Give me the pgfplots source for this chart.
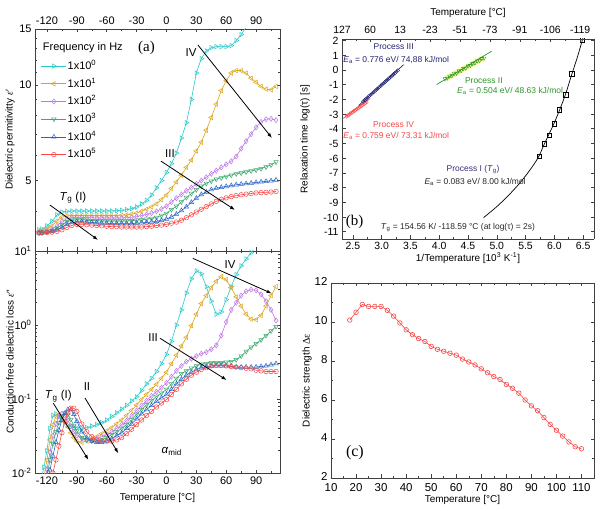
\documentclass[border=0pt]{standalone}
\usepackage{pgfplots}
\usepackage{pgfplotstable}
\pgfplotsset{compat=1.18}
\usepackage{fontspec}
\setmainfont{Liberation Sans}
\newfontfamily\seriffont{Liberation Serif}
\usetikzlibrary{arrows.meta}

\definecolor{cA}{RGB}{40,200,200}
\definecolor{cB}{RGB}{220,165,30}
\definecolor{cC}{RGB}{190,120,230}
\definecolor{cD}{RGB}{60,170,110}
\definecolor{cE}{RGB}{40,100,200}
\definecolor{cF}{RGB}{250,70,70}
\definecolor{navyIII}{RGB}{35,35,115}
\definecolor{greenII}{RGB}{40,150,40}
\definecolor{procI}{RGB}{55,45,115}

% dielectric permittivity eps'
\pgfplotstableread{
T c o v g b r
-128 3.50 3.46 3.43 3.42 3.42 3.42
-125 3.52 3.47 3.44 3.43 3.42 3.42
-120 3.60 3.52 3.47 3.45 3.44 3.43
-115 3.72 3.60 3.52 3.48 3.46 3.44
-110 3.90 3.73 3.60 3.54 3.50 3.46
-105 3.98 3.83 3.72 3.63 3.56 3.50
-100 4.00 3.87 3.79 3.71 3.64 3.56
-95 4.01 3.88 3.82 3.75 3.69 3.61
-90 4.01 3.88 3.83 3.76 3.71 3.64
-85 4.01 3.88 3.83 3.76 3.71 3.64
-80 4.01 3.88 3.82 3.75 3.70 3.63
-75 4.01 3.88 3.82 3.74 3.69 3.62
-70 4.01 3.88 3.81 3.74 3.68 3.61
-65 4.01 3.88 3.81 3.73 3.67 3.60
-60 4.01 3.88 3.81 3.73 3.67 3.59
-55 4.01 3.88 3.81 3.73 3.66 3.58
-50 4.02 3.88 3.81 3.73 3.66 3.58
-45 4.03 3.89 3.81 3.73 3.66 3.57
-40 4.05 3.90 3.82 3.73 3.66 3.57
-35 4.08 3.92 3.83 3.74 3.66 3.57
-30 4.13 3.95 3.85 3.75 3.67 3.57
-25 4.22 4.00 3.88 3.76 3.68 3.57
-20 4.33 4.06 3.91 3.78 3.69 3.58
-15 4.50 4.13 3.95 3.80 3.70 3.59
-10 4.74 4.22 4.00 3.83 3.72 3.61
-5 5.00 4.35 4.07 3.88 3.75 3.62
0 5.30 4.50 4.15 3.94 3.78 3.64
5 5.65 4.72 4.28 4.05 3.84 3.67
10 6.10 4.95 4.40 4.15 3.92 3.70
15 6.80 5.20 4.52 4.28 4.02 3.75
20 7.60 5.50 4.64 4.42 4.13 3.82
25 9.00 5.80 4.75 4.55 4.27 3.90
30 10.9 6.20 4.88 4.68 4.40 3.98
35 12.1 6.60 5.00 4.80 4.52 4.06
40 12.8 7.20 5.12 4.90 4.60 4.14
45 13.1 7.90 5.25 4.98 4.68 4.22
50 13.2 8.70 5.37 5.05 4.73 4.30
55 13.2 9.60 5.50 5.10 4.76 4.36
60 13.2 10.3 5.62 5.15 4.79 4.41
65 13.3 10.9 5.75 5.20 4.82 4.45
70 13.8 11.1 5.95 5.25 4.85 4.48
75 14.4 11.1 6.30 5.28 4.87 4.51
80 15.2 10.9 6.65 5.32 4.89 4.53
85 16.5 10.5 7.00 5.36 4.91 4.55
90 18.0 10.2 7.35 5.40 4.93 4.57
95 20.0 9.90 7.65 5.45 4.95 4.58
100 22.0 9.70 7.80 5.52 4.97 4.59
105 24.0 9.65 7.82 5.60 4.99 4.60
110 26.0 9.90 7.75 5.72 5.02 4.62
}\tabEpsP

% conduction-free dielectric loss eps''
\pgfplotstableread{
T c o v g b r
-126 0.008 0.006 0.005 0.005 0.004 0.004
-123 0.012 0.009 0.007 0.006 0.005 0.0045
-120 0.020 0.015 0.011 0.009 0.007 0.0055
-117 0.040 0.028 0.019 0.015 0.011 0.007
-114 0.060 0.045 0.032 0.025 0.017 0.010
-111 0.063 0.058 0.046 0.036 0.026 0.015
-108 0.058 0.062 0.058 0.048 0.038 0.023
-105 0.052 0.058 0.063 0.058 0.052 0.035
-102 0.047 0.050 0.060 0.065 0.064 0.050
-99 0.044 0.042 0.052 0.062 0.072 0.065
-96 0.042 0.035 0.043 0.053 0.072 0.075
-93 0.041 0.030 0.036 0.044 0.062 0.075
-90 0.041 0.027 0.032 0.037 0.050 0.068
-85 0.040 0.026 0.029 0.030 0.036 0.046
-80 0.041 0.027 0.028 0.028 0.030 0.036
-75 0.043 0.029 0.028 0.027 0.027 0.031
-70 0.045 0.031 0.029 0.027 0.026 0.028
-65 0.048 0.034 0.031 0.028 0.026 0.027
-60 0.052 0.037 0.033 0.030 0.027 0.027
-55 0.058 0.041 0.036 0.033 0.029 0.027
-50 0.065 0.046 0.040 0.036 0.032 0.028
-45 0.073 0.052 0.045 0.040 0.035 0.030
-40 0.082 0.060 0.051 0.045 0.040 0.034
-35 0.094 0.070 0.059 0.052 0.046 0.039
-30 0.107 0.083 0.070 0.062 0.054 0.045
-25 0.130 0.098 0.082 0.072 0.063 0.052
-20 0.160 0.115 0.095 0.083 0.072 0.060
-15 0.190 0.135 0.110 0.095 0.082 0.068
-10 0.235 0.158 0.125 0.108 0.093 0.078
-5 0.300 0.190 0.142 0.120 0.104 0.088
0 0.400 0.230 0.165 0.135 0.115 0.098
5 0.600 0.300 0.200 0.160 0.135 0.115
10 1.00 0.390 0.240 0.190 0.160 0.135
15 1.60 0.520 0.280 0.220 0.185 0.160
20 2.70 0.680 0.320 0.240 0.210 0.185
25 4.20 0.980 0.350 0.260 0.230 0.210
30 5.40 1.40 0.380 0.280 0.250 0.230
35 4.90 1.95 0.410 0.295 0.265 0.250
40 3.30 2.50 0.430 0.300 0.272 0.265
45 2.10 3.20 0.470 0.310 0.278 0.280
50 1.40 3.90 0.530 0.310 0.280 0.285
55 1.50 4.50 0.720 0.310 0.280 0.285
60 2.20 4.10 1.10 0.315 0.280 0.280
65 3.30 3.20 1.60 0.320 0.275 0.275
70 4.80 2.40 2.00 0.340 0.270 0.270
75 6.30 1.80 2.50 0.380 0.270 0.265
80 7.80 1.40 2.85 0.440 0.270 0.260
85 9.50 1.20 3.00 0.500 0.270 0.255
90 11.5 1.18 2.95 0.560 0.270 0.245
95 14.0 1.35 2.60 0.630 0.275 0.240
100 17.0 1.80 2.10 0.720 0.280 0.235
105 20.0 2.50 1.60 0.830 0.290 0.235
110 24.0 3.30 1.15 0.950 0.300 0.235
}\tabEpsPP

% dielectric strength
\pgfplotstableread{
T d
17.5 10.10
20 10.50
22.5 10.90
25 10.80
27.5 10.80
30 10.80
32.5 10.60
35 10.30
37.5 9.95
40 9.60
42.5 9.35
45 9.15
47.5 9.00
50 8.75
52.5 8.60
55 8.50
57.5 8.40
60 8.30
62.5 8.10
65 7.95
67.5 7.80
70 7.60
72.5 7.40
75 7.20
77.5 7.05
80 6.80
82.5 6.60
85 6.35
87.5 6.00
90 5.70
92.5 5.45
95 5.10
97.5 4.75
100 4.45
102.5 4.15
105 3.85
107.5 3.60
110 3.50
}\tabDeps

\pgfplotsset{
  base/.style={
    scale only axis, anchor=south west,
    axis line style={black!75, line width=0.6bp},
    tick style={black!75, line width=0.5bp},
    tick align=inside,
    major tick length=3.5bp, minor tick length=2bp,
    tick label style={font=\fontsize{11}{12}\selectfont},
    label style={font=\fontsize{12.5}{14}\selectfont},
    /pgf/number format/assume math mode=true,
    clip marker paths=true,
  },
  ser/.style={line width=0.6bp, mark size=2.6bp},
  sA/.style={ser, cA, mark=triangle, mark options={solid, rotate=-90, line width=0.5bp}},
  sB/.style={ser, cB, mark=triangle, mark options={solid, rotate=90, line width=0.5bp}},
  sC/.style={ser, cC, mark=diamond, mark options={solid, line width=0.5bp}},
  sD/.style={ser, cD, mark=triangle, mark options={solid, rotate=180, line width=0.5bp}},
  sE/.style={ser, cE, mark=triangle, mark options={solid, line width=0.5bp}},
  sF/.style={ser, cF, mark=o, mark size=2.3bp, mark options={solid, line width=0.5bp}},
}
\tikzset{
  arr/.style={-{Latex[length=5bp,width=3.6bp]}, line width=0.8bp, black},
  ann/.style={font=\fontsize{11.5}{12}\selectfont},
  bann/.style={font=\fontsize{8.5}{10}\selectfont},
}

\begin{document}
\begin{tikzpicture}
\useasboundingbox (0bp,0bp) rectangle (606bp,511bp);

% ---------------- (a) top: eps'
\begin{axis}[base,
  at={(35bp,260bp)}, width=245bp, height=222bp,
  xmin=-132, xmax=114, ymode=log, ymin=3, ymax=15,
  xtick={-120,-90,...,90}, minor xtick={-105,-75,...,105},
  xticklabel pos=upper,
  xticklabel style={yshift=1bp},
  ytick={5,10,15}, yticklabels={5,10,15},
  minor ytick={4,6,7,8,9,11,12,13,14},
  ylabel={Dielectric permitivitty {\seriffont\itshape ε}′},
  every axis y label/.style={at={(rel axis cs:0,0.5)}, xshift=-25bp, rotate=90, anchor=center},
  legend style={at={(0.024,0.862)}, anchor=north west, draw=none, fill=none, inner sep=0pt,
    row sep=5.2bp, font=\fontsize{11}{12}\selectfont,
    nodes={inner sep=1bp, text height=8.5bp, text depth=2bp}},
  legend cell align=left,
  legend image code/.code={\draw[mark repeat=2,mark phase=2] plot coordinates {(0bp,0bp) (12.5bp,0bp) (25bp,0bp)};},
]
\addplot[sA] table[x=T,y=c] {\tabEpsP}; \addlegendentry{1x10\textsuperscript{0}}
\addplot[sB] table[x=T,y=o] {\tabEpsP}; \addlegendentry{1x10\textsuperscript{1}}
\addplot[sC] table[x=T,y=v] {\tabEpsP}; \addlegendentry{1x10\textsuperscript{2}}
\addplot[sD] table[x=T,y=g] {\tabEpsP}; \addlegendentry{1x10\textsuperscript{3}}
\addplot[sE] table[x=T,y=b] {\tabEpsP}; \addlegendentry{1x10\textsuperscript{4}}
\addplot[sF] table[x=T,y=r] {\tabEpsP}; \addlegendentry{1x10\textsuperscript{5}}
\node[anchor=west, font=\fontsize{11}{12}\selectfont] at (rel axis cs:0.018,0.914) {Frequency in Hz};
\node[font=\seriffont\fontsize{15}{16}\selectfont] at (rel axis cs:0.455,0.915) {(a)};
\draw[arr] (rel axis cs:0.061,0.207) -- (rel axis cs:0.257,0.05);
\node[ann] at (rel axis cs:0.155,0.24) {\textit{T}\textsubscript{g} (I)};
\draw[arr] (rel axis cs:0.514,0.405) -- (rel axis cs:0.816,0.185);
\node[ann] at (rel axis cs:0.551,0.441) {III};
\draw[arr] (rel axis cs:0.665,0.928) -- (rel axis cs:0.967,0.509);
\node[ann] at (rel axis cs:0.637,0.896) {IV};
\end{axis}

% ---------------- (a) bottom: eps''
\begin{axis}[base,
  at={(35bp,38bp)}, width=245bp, height=222bp,
  xmin=-132, xmax=114, ymode=log, ymin=0.01, ymax=10,
  xtick={-120,-90,...,90}, minor xtick={-105,-75,...,105},
  ytick={0.01,0.1,1,10},
  yticklabels={10\textsuperscript{-2},10\textsuperscript{-1},10\textsuperscript{0},10\textsuperscript{1}},
  minor ytick={0.02,0.03,0.04,0.05,0.06,0.07,0.08,0.09,0.2,0.3,0.4,0.5,0.6,0.7,0.8,0.9,2,3,4,5,6,7,8,9},
  xlabel={Temperature [°C]},
  ylabel={Conduction-free dielectric loss {\seriffont\itshape ε}″},
  every axis y label/.style={at={(rel axis cs:0,0.5)}, xshift=-25bp, rotate=90, anchor=center},
  every axis x label/.style={at={(rel axis cs:0.5,0)}, yshift=-25bp, anchor=center},
]
\addplot[sA] table[x=T,y=c] {\tabEpsPP};
\addplot[sB] table[x=T,y=o] {\tabEpsPP};
\addplot[sC] table[x=T,y=v] {\tabEpsPP};
\addplot[sD] table[x=T,y=g] {\tabEpsPP};
\addplot[sE] table[x=T,y=b] {\tabEpsPP};
\addplot[sF] table[x=T,y=r] {\tabEpsPP};
\draw[arr] (rel axis cs:0.644,0.967) -- (rel axis cs:0.966,0.809);
\node[ann] at (rel axis cs:0.796,0.937) {IV};
\draw[arr] (rel axis cs:0.510,0.607) -- (rel axis cs:0.782,0.419);
\node[ann] at (rel axis cs:0.482,0.608) {III};
\draw[arr] (rel axis cs:0.075,0.314) -- (rel axis cs:0.218,0.059);
\node[ann] at (rel axis cs:0.095,0.345) {\textit{T}\textsubscript{g} (I)};
\draw[arr] (rel axis cs:0.204,0.338) -- (rel axis cs:0.340,0.089);
\node[ann] at (rel axis cs:0.212,0.39) {II};
\node[ann] at (rel axis cs:0.558,0.096) {\textit{α}\textsubscript{mid}};
\end{axis}

% ---------------- (b) relaxation map
\begin{axis}[base,
  at={(342bp,272bp)}, width=252bp, height=200bp,
  xmin=2.31, xmax=6.69, ymin=-11.5, ymax=2.1,
  axis x line*=bottom,
  xtick={2.5,3,...,6.5}, minor x tick num=1,
  ytick={-11,-10,...,2},
  tick label style={font=\fontsize{10.5}{12}\selectfont},
  label style={font=\fontsize{12}{13}\selectfont},
  yticklabel style={yshift=-0.5bp},
  xticklabel style={/pgf/number format/.cd, fixed, fixed zerofill, precision=1},
  xlabel={1/Temperature [10\textsuperscript{3} K\textsuperscript{-1}]},
  ylabel={Relaxation time log(τ) [s]},
  every axis y label/.style={at={(rel axis cs:0,0.5)}, xshift=-37bp, rotate=90, anchor=center},
  every axis x label/.style={at={(rel axis cs:0.5,0)}, yshift=-19bp, anchor=center},
]
% Process IV
\addplot[cF, line width=0.7bp] coordinates {(2.33,-3.30) (2.80,-1.95)};
\addplot[cF, only marks, mark=diamond, mark size=2bp, mark options={line width=0.4bp}] coordinates {
(2.390,-3.16) (2.415,-3.09) (2.440,-3.02) (2.465,-2.95) (2.490,-2.88) (2.515,-2.82) (2.540,-2.75)
(2.565,-2.68) (2.590,-2.61) (2.615,-2.54) (2.640,-2.47) (2.665,-2.40) (2.690,-2.33) (2.715,-2.26) (2.740,-2.19)};
% Process III
\addplot[navyIII, line width=0.7bp] coordinates {(2.60,-2.42) (3.38,0.35)};
\addplot[navyIII, only marks, mark=o, mark size=1.8bp, mark options={line width=0.4bp}] coordinates {
(2.680,-2.14) (2.705,-2.05) (2.730,-1.97) (2.755,-1.88) (2.780,-1.79) (2.805,-1.70) (2.830,-1.62)
(2.855,-1.53) (2.880,-1.44) (2.905,-1.35) (2.930,-1.27) (2.955,-1.18) (2.980,-1.09) (3.005,-1.00)
(3.030,-0.92) (3.055,-0.83) (3.080,-0.74) (3.105,-0.65) (3.130,-0.57) (3.155,-0.48) (3.180,-0.39)
(3.205,-0.30) (3.230,-0.22) (3.255,-0.13) (3.280,-0.04)};
% Process II
\addplot[yellow!55!white, line width=6bp, opacity=0.7] coordinates {(4.12,-0.58) (4.78,0.82)};
\addplot[greenII, line width=0.7bp] coordinates {(3.955,-1.0) (4.91,1.27)};
\addplot[greenII, only marks, mark=triangle, mark size=2.2bp, mark options={rotate=180, line width=0.4bp}] coordinates {
(4.10,-0.60) (4.14,-0.56) (4.18,-0.42) (4.22,-0.40) (4.26,-0.25) (4.30,-0.22) (4.34,-0.07) (4.38,-0.05)
(4.42,0.10) (4.46,0.12) (4.50,0.27) (4.54,0.30) (4.58,0.44) (4.62,0.47) (4.66,0.61) (4.70,0.64)
(4.74,0.78) (4.78,0.80)};
% Process I
\addplot[black, line width=0.7bp, smooth] coordinates {
(4.77,-10.05) (5.0,-9.3) (5.2,-8.55) (5.4,-7.7) (5.55,-6.95) (5.65,-6.4) (5.735,-5.85) (5.82,-5.1)
(5.91,-4.35) (6.0,-3.6) (6.1,-2.65) (6.2,-1.6) (6.3,-0.35) (6.4,0.85) (6.5,2.2)};
\addplot[black, only marks, mark=square, mark size=2.2bp, mark options={line width=0.5bp}] coordinates {
(5.735,-5.87) (5.822,-5.03) (5.909,-4.44) (6.001,-3.67) (6.088,-2.70) (6.20,-1.68) (6.30,-0.26) (6.49,2.05)};
\node[bann, text=navyIII] at (rel axis cs:0.205,0.962) {Process III};
\node[bann, text=navyIII] at (rel axis cs:0.215,0.895) {\textit{E}\textsubscript{a} = 0.776 eV/ 74,88 kJ/mol};
\node[bann, text=greenII] at (rel axis cs:0.563,0.79) {Process II};
\node[bann, text=greenII] at (rel axis cs:0.667,0.742) {\textit{E}\textsubscript{a} = 0.504 eV/ 48.63 kJ/mol};
\node[bann, text=cF] at (rel axis cs:0.205,0.57) {Process IV};
\node[bann, text=cF] at (rel axis cs:0.215,0.515) {\textit{E}\textsubscript{a} = 0.759 eV/ 73.31 kJ/mol};
\node[bann, text=procI] at (rel axis cs:0.52,0.345) {Process I (\textit{T}\textsubscript{g})};
\node[bann, text=black!85] at (rel axis cs:0.528,0.287) {\textit{E}\textsubscript{a} = 0.083 eV/ 8.00 kJ/mol};
\node[bann, text=black!85] at (rel axis cs:0.46,0.057) {\textit{T}\textsubscript{g} = 154.56 K/ -118.59 °C (at log(τ) = 2s)};
\node[font=\seriffont\fontsize{15}{16}\selectfont] at (rel axis cs:0.05,0.085) {(b)};
\end{axis}
\begin{axis}[base,
  at={(342bp,272bp)}, width=252bp, height=200bp,
  xmin=2.31, xmax=6.69, ymin=-11.5, ymax=2.1,
  axis x line*=top, axis y line=none,
  xtick={2.31,2.80,3.32,3.84,4.36,4.88,5.40,5.93,6.45},
  xticklabels={127,60,13,-23,-51,-73,-91,-106,-119},
  minor xtick={2.555,3.06,3.58,4.10,4.62,5.14,5.665,6.19},
  tick label style={font=\fontsize{10.5}{12}\selectfont},
  xticklabel style={yshift=1.5bp},
  label style={font=\fontsize{12}{13}\selectfont},
  xlabel={Temperature [°C]},
  every axis x label/.style={at={(rel axis cs:0.5,1)}, yshift=26bp, anchor=center},
]
\addplot[draw=none] coordinates {(3,0)};
\end{axis}

% ---------------- (c) dielectric strength
\begin{axis}[base,
  at={(331bp,33bp)}, width=263bp, height=195bp,
  xmin=10, xmax=115, ymin=2, ymax=12,
  xtick={10,20,...,110}, minor x tick num=1,
  ytick={2,4,...,12}, minor y tick num=1,
  tick label style={font=\fontsize{11.5}{12}\selectfont},
  label style={font=\fontsize{12}{13}\selectfont},
  xticklabel style={yshift=-2bp},
  yticklabel style={yshift=1.5bp},
  xlabel={Temperature [°C]},
  ylabel={Dielectric strength {\seriffont Δε}},
  every axis y label/.style={at={(rel axis cs:0,0.5)}, xshift=-24bp, rotate=90, anchor=center},
  every axis x label/.style={at={(rel axis cs:0.5,0)}, yshift=-22bp, anchor=center},
]
\addplot[cF, line width=0.6bp, mark=o, mark size=2.3bp, mark options={solid, line width=0.6bp}] table[x=T,y=d] {\tabDeps};
\node[font=\seriffont\fontsize{16}{17}\selectfont] at (rel axis cs:0.091,0.13) {(c)};
\end{axis}
\end{tikzpicture}
\end{document}
